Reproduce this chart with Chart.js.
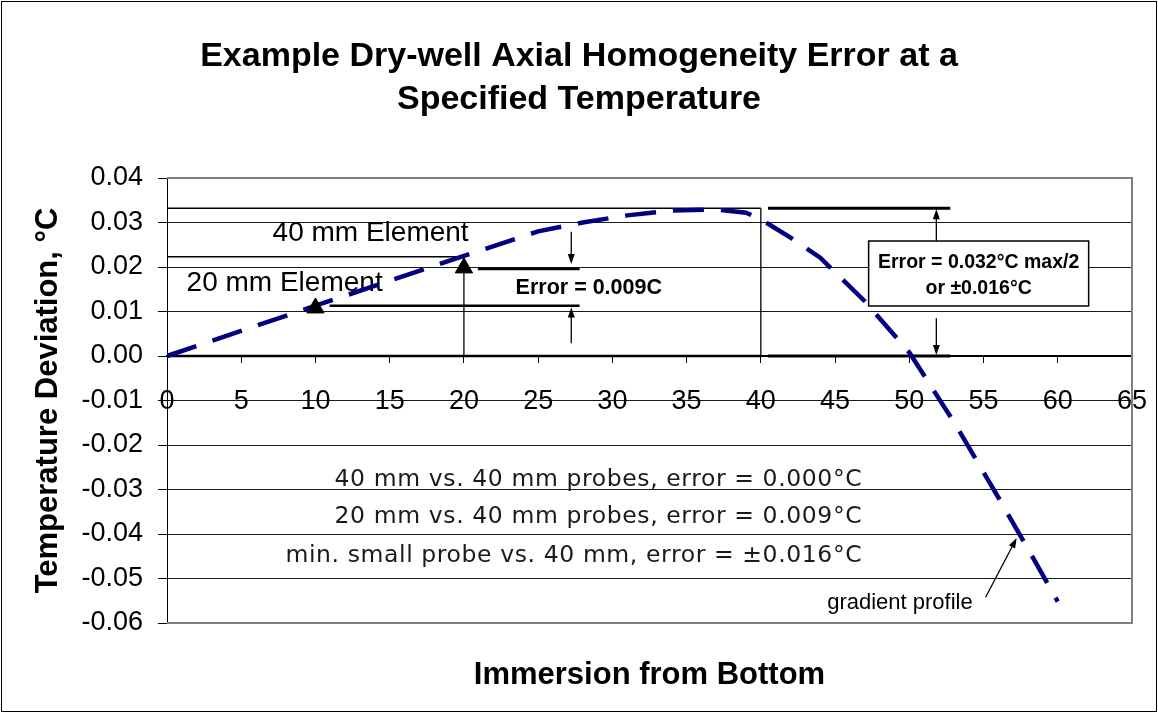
<!DOCTYPE html>
<html>
<head>
<meta charset="utf-8">
<style>html,body{margin:0;padding:0;background:#fff;}canvas{display:block;}</style>
<script src="https://cdn.jsdelivr.net/npm/chart.js@4.4.1/dist/chart.umd.min.js"></script>
</head>
<body>
<canvas id="c" width="1158" height="713"></canvas>
<script>
// ---- data ----
const immersion = [0, 10, 20, 25, 28, 31, 34, 37, 39, 40, 42, 44, 47, 50, 53, 56, 58, 60];
const deviation = [0, 0.0113, 0.0225, 0.0280, 0.0300, 0.0316, 0.0327, 0.0329, 0.0322, 0.0307, 0.0266, 0.0221, 0.0123, 0.0008, -0.0148, -0.0318, -0.0434, -0.0552];
const markerImmersion = [10, 20];
const markerDeviation = [0.0108, 0.0198];
const xTicks = [0, 5, 10, 15, 20, 25, 30, 35, 40, 45, 50, 55, 60, 65];
const yTicks = [-0.06, -0.05, -0.04, -0.03, -0.02, -0.01, 0, 0.01, 0.02, 0.03, 0.04];
const chartTitle = ['Example Dry-well Axial Homogeneity Error at a', 'Specified Temperature'];
const yTitle = 'Temperature Deviation, \u00B0C';
const xTitle = 'Immersion from Bottom';
const noteLines = ['40 mm vs. 40 mm probes, error = 0.000\u00B0C', '20 mm vs. 40 mm probes, error = 0.009\u00B0C', 'min. small probe vs. 40 mm, error = \u00B10.016\u00B0C'];

// ---- annotation geometry (data units) ----
const guideSegments = [
  {x1: 0, y1: 0.0332, x2: 40, y2: 0.0332, w: 1.3},
  {x1: 40, y1: 0.0332, x2: 40, y2: 0, w: 1.3},
  {x1: 0, y1: 0.0223, x2: 20, y2: 0.0223, w: 1.3},
  {x1: 20, y1: 0.0223, x2: 20, y2: 0, w: 1.3},
  {x1: 0, y1: 0, x2: 40, y2: 0, w: 2.5},
  {x1: 20.94, y1: 0.01955, x2: 27.79, y2: 0.01955, w: 2.5},
  {x1: 10.95, y1: 0.0113, x2: 27.79, y2: 0.0113, w: 2.5},
  {x1: 40.48, y1: 0.0332, x2: 52.76, y2: 0.0332, w: 3},
  {x1: 40.48, y1: 0, x2: 52.76, y2: 0, w: 3}
];
const guideArrows = [
  {x1: 27.23, y1: 0.0279, x2: 27.23, y2: 0.0207},
  {x1: 27.23, y1: 0.00285, x2: 27.23, y2: 0.0109},
  {x1: 51.82, y1: 0.0258, x2: 51.82, y2: 0.0330},
  {x1: 51.82, y1: 0.0085, x2: 51.82, y2: 0.0002},
  {x1: 55.14, y1: -0.0542, x2: 57.23, y2: -0.0409}
];
const errorBox = {x1: 47.26, y1: 0.02584, x2: 62.08, y2: 0.01124};

const ARIAL = "'Liberation Sans', Arial, sans-serif";
const WIDE = "'DejaVu Sans', sans-serif";

const labels = [
  {t: '40 mm Element', x: 7.11, y: 0.02584, font: '28px ' + ARIAL, align: 'left'},
  {t: '20 mm Element', x: 1.32, y: 0.01467, font: '28px ' + ARIAL, align: 'left'},
  {t: 'Error = 0.009C', x: 23.48, y: 0.01393, font: 'bold 21.5px ' + ARIAL, align: 'left'},
  {t: 'Error = 0.032\u00B0C max/2', x: 54.67, y: 0.01978, font: 'bold 19.5px ' + ARIAL, align: 'center'},
  {t: 'or \u00B10.016\u00B0C', x: 54.67, y: 0.01393, font: 'bold 19.5px ' + ARIAL, align: 'center'},
  {t: noteLines[0], x: 46.83, y: -0.02921, font: '400 23.5px ' + WIDE, align: 'right', ls: '0.6px', color: '#1a1a1a'},
  {t: noteLines[1], x: 46.83, y: -0.03753, font: '400 23.5px ' + WIDE, align: 'right', ls: '0.6px', color: '#1a1a1a'},
  {t: noteLines[2], x: 46.83, y: -0.04629, font: '400 23.5px ' + WIDE, align: 'right', ls: '0.6px', color: '#1a1a1a'},
  {t: 'gradient profile', x: 54.27, y: -0.05685, font: '22px ' + ARIAL, align: 'right'}
];

function drawArrow(c, x1, y1, x2, y2) {
  const ang = Math.atan2(y2 - y1, x2 - x1), L = 10, W = 3.5;
  const cs = Math.cos(ang), sn = Math.sin(ang);
  c.beginPath(); c.moveTo(x1, y1); c.lineTo(x2 - L * 0.7 * cs, y2 - L * 0.7 * sn); c.stroke();
  c.beginPath(); c.moveTo(x2, y2);
  c.lineTo(x2 - L * cs + W * sn, y2 - L * sn - W * cs);
  c.lineTo(x2 - L * cs - W * sn, y2 - L * sn + W * cs);
  c.closePath(); c.fill();
}

const annotate = {
  id: 'annotate',
  beforeDraw(chart) {
    const c = chart.ctx;
    c.save();
    c.fillStyle = '#fff'; c.fillRect(0, 0, chart.width, chart.height);
    c.strokeStyle = '#000'; c.lineWidth = 1;
    c.strokeRect(1.5, 1.5, chart.width - 3, chart.height - 3);
    c.restore();
  },
  beforeDatasetsDraw(chart) {
    const {ctx: c, chartArea: a, scales: {x, y}} = chart;
    const px = v => x.getPixelForValue(v), py = v => y.getPixelForValue(v);
    c.save();
    // plot area border (grey) top, right, bottom
    c.strokeStyle = '#808080'; c.lineWidth = 2;
    c.beginPath();
    c.moveTo(a.left, a.top); c.lineTo(a.right, a.top); c.lineTo(a.right, a.bottom); c.lineTo(a.left, a.bottom);
    c.stroke();
    // guide segments
    c.strokeStyle = '#000';
    guideSegments.forEach(s => {
      c.lineWidth = s.w;
      c.beginPath(); c.moveTo(px(s.x1), py(s.y1)); c.lineTo(px(s.x2), py(s.y2)); c.stroke();
    });
    // error box
    const bx = px(errorBox.x1), by = py(errorBox.y1);
    const bw = px(errorBox.x2) - bx, bh = py(errorBox.y2) - by;
    c.fillStyle = '#fff'; c.fillRect(bx, by, bw, bh);
    c.lineWidth = 1.5; c.strokeRect(bx, by, bw, bh);
    // arrows
    c.fillStyle = '#000'; c.lineWidth = 1.3;
    guideArrows.forEach(r => drawArrow(c, px(r.x1), py(r.y1), px(r.x2), py(r.y2)));
    // texts
    c.textBaseline = 'alphabetic';
    labels.forEach(l => {
      c.font = l.font; c.textAlign = l.align;
      c.fillStyle = l.color || '#000';
      if ('letterSpacing' in c) c.letterSpacing = l.ls || '0px';
      c.fillText(l.t, px(l.x), py(l.y));
    });
    if ('letterSpacing' in c) c.letterSpacing = '0px';
    c.restore();
  }
};

const curve = immersion.map((v, i) => ({x: v, y: deviation[i]}));
const markers = markerImmersion.map((v, i) => ({x: v, y: markerDeviation[i]}));

new Chart(document.getElementById('c'), {
  type: 'scatter',
  data: {
    datasets: [
      {label: 'gradient profile', data: curve, showLine: true, xAxisID: 'x', yAxisID: 'y',
       borderColor: '#000080', borderWidth: 4.5, borderDash: [31, 17], borderCapStyle: 'butt',
       pointRadius: 0, tension: 0, order: 2, fill: false},
      {label: 'elements', data: markers, xAxisID: 'x', yAxisID: 'y', pointStyle: 'triangle',
       pointRadius: 10, backgroundColor: '#000', borderColor: '#000', borderWidth: 1, order: 1, showLine: false}
    ]
  },
  options: {
    responsive: false,
    animation: false,
    devicePixelRatio: 1,
    layout: {padding: {left: 0, right: 0, top: 0, bottom: 0}},
    plugins: {
      legend: {display: false},
      tooltip: {enabled: false},
      title: {display: true, text: chartTitle, color: '#000',
        font: {family: ARIAL, size: 34, weight: 'bold', lineHeight: '43px'},
        padding: {top: 35, bottom: 57}}
    },
    scales: {
      x: {
        type: 'linear', axis: 'x', position: {y: 0}, min: 0, max: 65,
        afterBuildTicks(s) { s.ticks = xTicks.map(v => ({value: v})); },
        afterFit(s) { s.paddingLeft = 0; s.paddingRight = 26; },
        ticks: {font: {family: ARIAL, size: 27}, color: '#000', padding: 23, autoSkip: false, maxRotation: 0,
          callback: v => String(v)},
        grid: {drawOnChartArea: false, drawTicks: true, tickLength: 6, tickColor: '#000', color: '#000'},
        border: {display: true, color: '#000', width: 2}
      },
      xb: {
        type: 'linear', axis: 'x', position: 'bottom', min: 0, max: 65,
        afterFit(s) { s.height = 90; s.paddingLeft = 0; s.paddingRight = 0; },
        ticks: {display: false}, grid: {display: false}, border: {display: false},
        title: {display: true, text: xTitle, color: '#000', font: {family: ARIAL, size: 31, weight: 'bold'},
          padding: {top: 0, bottom: 19}}
      },
      y: {
        type: 'linear', position: 'left', min: -0.06, max: 0.04,
        afterFit(s) { s.width = 167; },
        afterBuildTicks(s) { s.ticks = yTicks.map(v => ({value: v})); },
        ticks: {font: {family: ARIAL, size: 27}, color: '#000', padding: 15, autoSkip: false,
          callback: v => Number(v).toFixed(2)},
        grid: {color: '#1a1a1a', lineWidth: 1, drawTicks: true, tickLength: 9, tickColor: '#000'},
        border: {display: true, color: '#000', width: 1},
        title: {display: true, text: yTitle, color: '#000', font: {family: ARIAL, size: 31, weight: 'bold'},
          padding: {top: 30, bottom: 0}}
      }
    }
  },
  plugins: [annotate]
});
</script>
</body>
</html>
